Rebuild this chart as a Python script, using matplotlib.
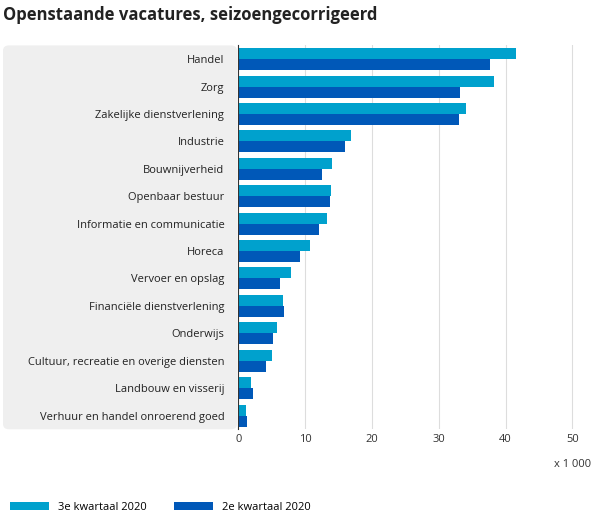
import matplotlib.pyplot as plt
import numpy as np
from matplotlib.patches import FancyBboxPatch

categories = ["Handel","Zorg","Zakelijke dienstverlening","Industrie","Bouwnijverheid",
              "Openbaar bestuur","Informatie en communicatie","Horeca","Vervoer en opslag",
              "Financiële dienstverlening","Onderwijs","Cultuur, recreatie en overige diensten",
              "Landbouw en visserij","Verhuur en handel onroerend goed"]
q3_2020 = [41.6,38.2,34.0,16.8,14.1,13.9,13.3,10.8,7.9,6.7,5.8,5.1,1.9,1.2]
q2_2020 = [37.7,33.2,33.1,16.0,12.6,13.8,12.1,9.3,6.3,6.9,5.2,4.2,2.2,1.3]
xticks = [0,10,20,30,40,50]

c3 = "#00a1cd"; c2 = "#0058b8"
plt.rcParams["font.family"] = "Open Sans"
fig = plt.figure(figsize=(6,5.28), dpi=100)
bg = fig.add_axes([0,0,1,1], zorder=-1)
bg.axis("off"); bg.set_xlim(0,1); bg.set_ylim(0,1)
bg.add_patch(FancyBboxPatch((0.005,0.187),0.39,0.727, boxstyle="round,pad=0,rounding_size=0.01",
                            fc="#efefef", ec="none"))
ax = fig.add_axes([0.397,0.187,0.585,0.727])
ax.set_facecolor("none")
n = len(categories)
y = np.arange(n)
h = 0.4
ax.barh(y-h/2, q3_2020, height=h, color=c3, label="3e kwartaal 2020")
ax.barh(y+h/2, q2_2020, height=h, color=c2, label="2e kwartaal 2020")
ax.set_ylim(n-0.5, -0.5)
ax.set_xlim(0,52.5)
ax.set_xticks(xticks)
ax.set_yticks(y)
ax.set_yticklabels(categories, fontsize=8, color="#222222")
ax.tick_params(axis="y", length=0, pad=10)
ax.tick_params(axis="x", length=0, labelsize=8, colors="#333333")
for t in xticks[1:]:
    ax.axvline(t, color="#dddddd", lw=0.8, zorder=0)
for s in ["top","right","bottom"]:
    ax.spines[s].set_visible(False)
ax.spines["left"].set_color("#333333")
fig.text(0.985,0.115,"x 1 000", ha="right", fontsize=8, color="#333333")
fig.text(0.005,0.962,"Openstaande vacatures, seizoengecorrigeerd", fontsize=12, fontweight="bold", color="#222222")
fig.legend(loc="lower left", bbox_to_anchor=(0.0,0.01), ncol=2, frameon=False, fontsize=8,
           handlelength=3.5, handleheight=0.8, columnspacing=2.5)
fig.savefig("out.png")
